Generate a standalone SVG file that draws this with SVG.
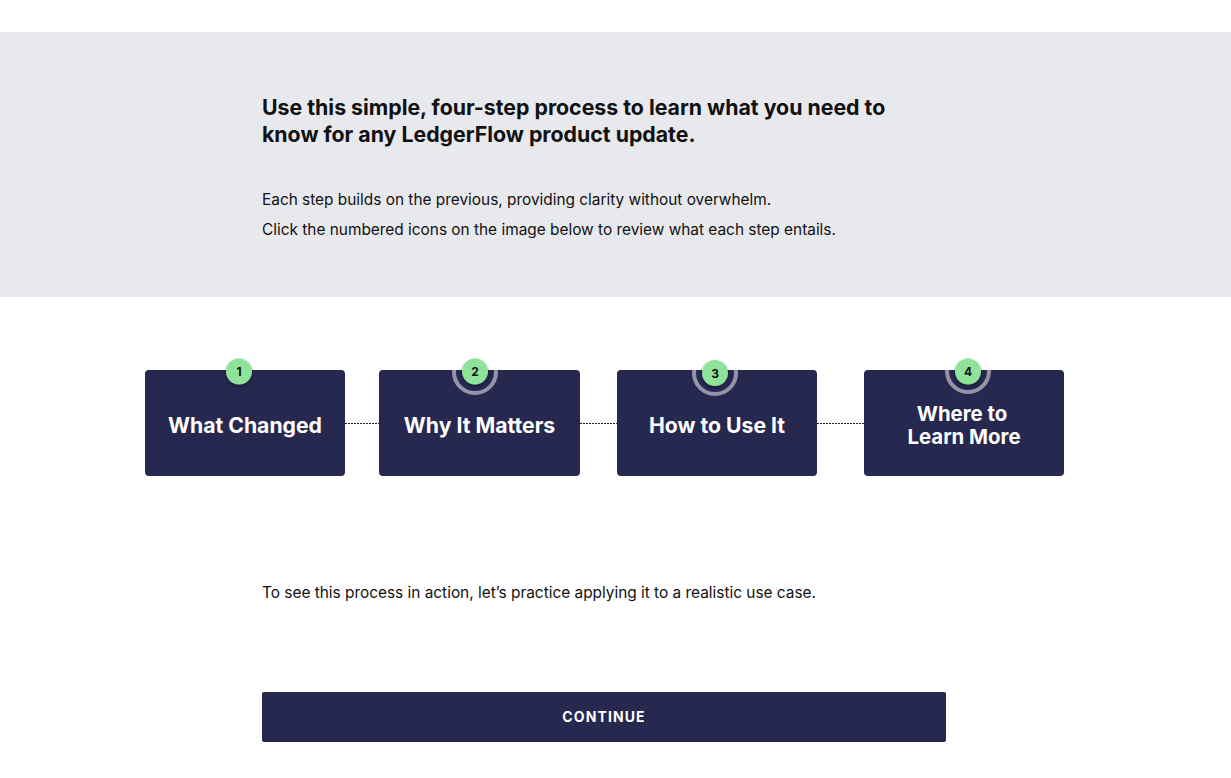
<svg xmlns="http://www.w3.org/2000/svg" width="1231" height="778" viewBox="0 0 1231 778">
<style>
.t{font-family:Inter,"Liberation Sans",sans-serif;fill:#111}
.h{font-size:21.3px;font-weight:700}
.b{font-size:15.4px}
.box{fill:#262850}
.lbl{font-family:Inter,"Liberation Sans",sans-serif;font-size:21.2px;font-weight:700;fill:#fff;text-anchor:middle}
.badge{fill:#8ee29a}
.num{font-family:Inter,"Liberation Sans",sans-serif;font-size:12px;font-weight:700;fill:#111;text-anchor:middle}
.ring{fill:none;stroke:#fff;stroke-opacity:0.5;stroke-width:4}
.conn{stroke:#222;stroke-width:1;stroke-dasharray:2 1;fill:none}
</style>
<defs>
<filter id="sh" x="-50%" y="-50%" width="200%" height="200%"><feDropShadow dx="0" dy="1.5" stdDeviation="1.5" flood-color="#000" flood-opacity="0.45"/></filter>
</defs>
<rect width="1231" height="778" fill="#fff"/>
<rect x="0" y="32" width="1231" height="265" fill="#e8e9ed"/>
<g id="intro">
<text class="t h" x="262" y="115">Use this simple, four-step process to learn what you need to</text>
<text class="t h" x="262" y="142">know for any LedgerFlow product update.</text>
<text class="t b" x="262" y="205">Each step builds on the previous, providing clarity without overwhelm.</text>
<text class="t b" x="262" y="235">Click the numbered icons on the image below to review what each step entails.</text>
</g>
<g id="connectors">
<line class="conn" x1="345" y1="423.5" x2="379" y2="423.5"/>
<line class="conn" x1="580" y1="423.5" x2="617" y2="423.5"/>
<line class="conn" x1="817" y1="423.5" x2="864" y2="423.5"/>
</g>
<g id="step1">
<rect class="box" x="145" y="370" width="200" height="106" rx="4"/>
<text class="lbl" x="245" y="433">What Changed</text>
<circle class="badge" cx="239" cy="371.5" r="13" filter="url(#sh)"/>
<text class="num" x="239" y="376">1</text>
</g>
<g id="step2">
<rect class="box" x="379" y="370" width="201" height="106" rx="4"/>
<text class="lbl" x="479.5" y="433">Why It Matters</text>
<circle class="ring" cx="475" cy="372" r="21"/>
<circle class="badge" cx="475" cy="371.5" r="13" filter="url(#sh)"/>
<text class="num" x="475" y="376">2</text>
</g>
<g id="step3">
<rect class="box" x="617" y="370" width="200" height="106" rx="4"/>
<text class="lbl" x="717" y="433">How to Use It</text>
<circle class="ring" cx="715" cy="373" r="21"/>
<circle class="badge" cx="715" cy="373" r="13" filter="url(#sh)"/>
<text class="num" x="715" y="377.5">3</text>
</g>
<g id="step4">
<rect class="box" x="864" y="370" width="200" height="106" rx="4"/>
<text class="lbl" style="font-size:20.4px"><tspan x="962" y="421">Where to</tspan><tspan x="964" y="444">Learn More</tspan></text>
<circle class="ring" cx="968" cy="371" r="21"/>
<circle class="badge" cx="968" cy="371.5" r="13" filter="url(#sh)"/>
<text class="num" x="968" y="376">4</text>
</g>
<text class="t b" x="262" y="598">To see this process in action, let’s practice applying it to a realistic use case.</text>
<g id="continue">
<rect x="262" y="692" width="684" height="50" rx="2" fill="#262850"/>
<text x="604" y="722" text-anchor="middle" font-family="Inter,'Liberation Sans',sans-serif" font-size="14" font-weight="700" letter-spacing="1.1" fill="#fff">CONTINUE</text>
</g>
</svg>
